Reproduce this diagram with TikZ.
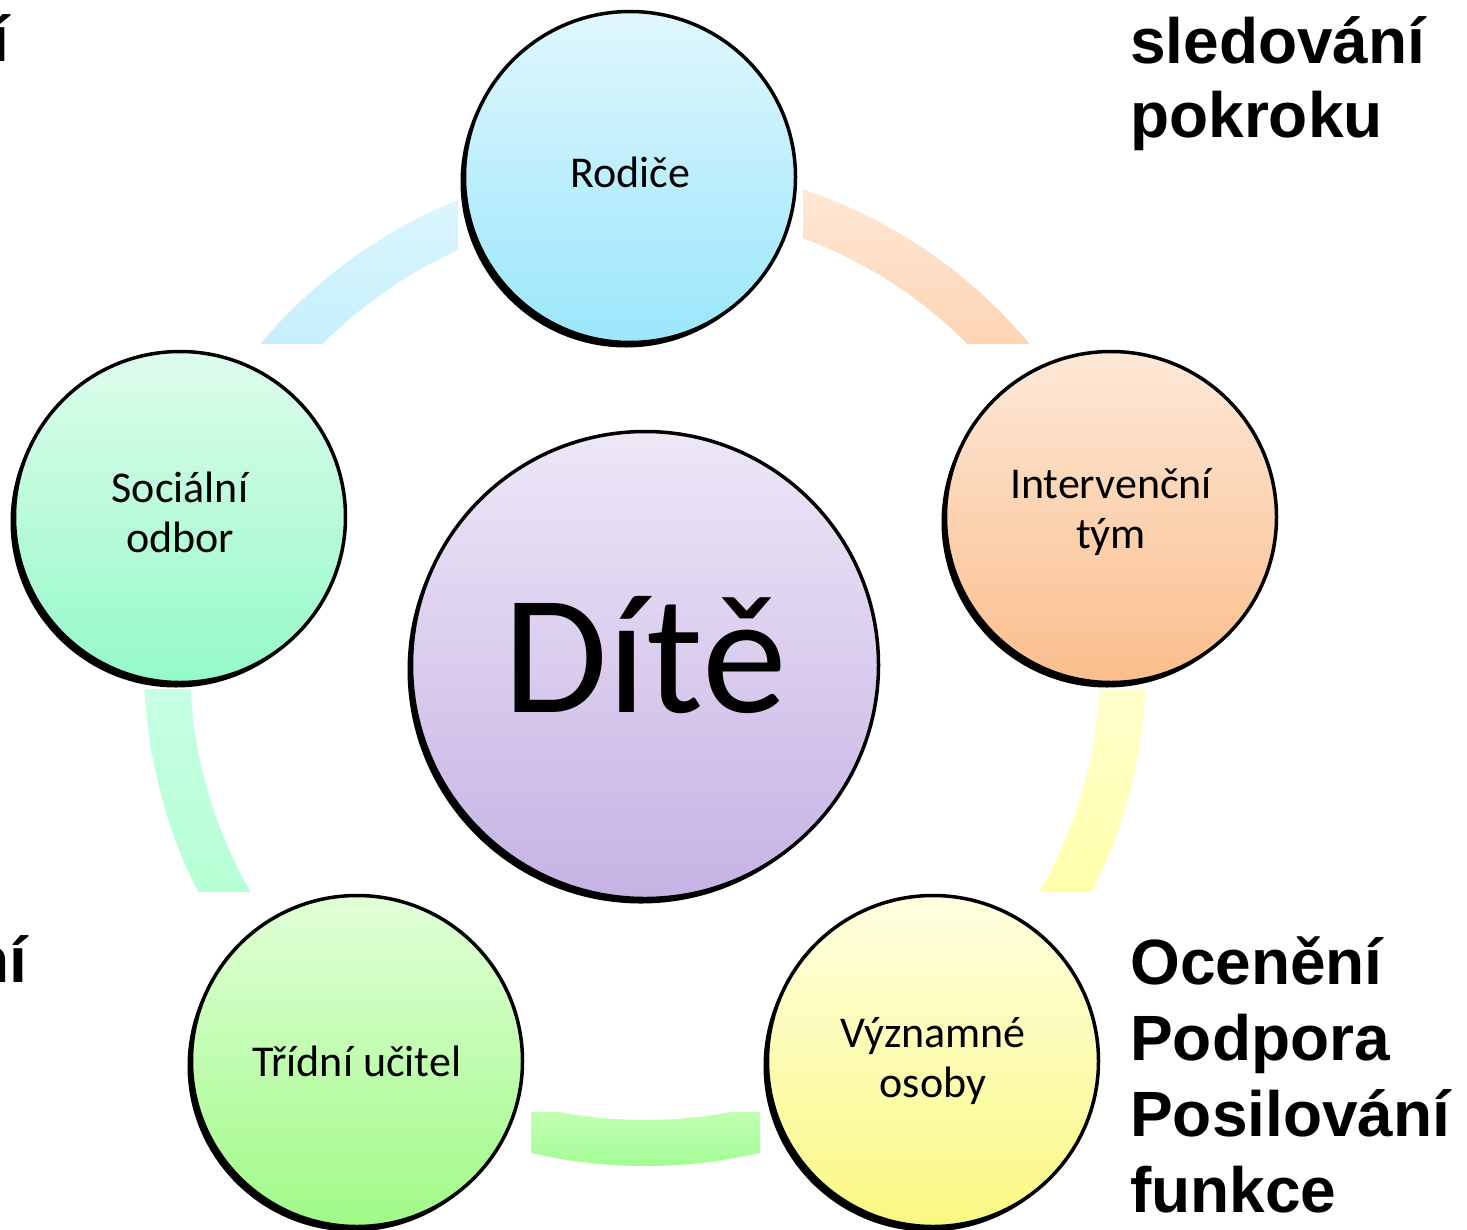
\documentclass[tikz,border=0pt]{standalone}
\usepackage{fontspec}
\setmainfont{Carlito}
\newfontfamily\sidefont{Liberation Sans}
\usetikzlibrary{shadows}
\definecolor{rodTop}{RGB}{224,247,253}
\definecolor{rodBot}{RGB}{154,230,251}
\definecolor{intTop}{RGB}{253,232,215}
\definecolor{intBot}{RGB}{251,190,140}
\definecolor{vyzTop}{RGB}{255,255,225}
\definecolor{vyzBot}{RGB}{250,248,130}
\definecolor{triTop}{RGB}{225,255,215}
\definecolor{triBot}{RGB}{160,250,135}
\definecolor{socTop}{RGB}{222,252,236}
\definecolor{socBot}{RGB}{148,250,200}
\definecolor{ditTop}{RGB}{237,231,247}
\definecolor{ditBot}{RGB}{198,178,228}
\definecolor{arcBlueT}{RGB}{220,246,254}
\definecolor{arcBlueB}{RGB}{198,239,252}
\definecolor{arcPeachT}{RGB}{254,232,216}
\definecolor{arcPeachB}{RGB}{253,213,180}
\definecolor{arcYelT}{RGB}{255,255,205}
\definecolor{arcYelB}{RGB}{255,255,170}
\definecolor{arcMintT}{RGB}{198,255,228}
\definecolor{arcMintB}{RGB}{182,255,212}
\definecolor{arcGreenT}{RGB}{192,255,178}
\definecolor{arcGreenB}{RGB}{163,253,148}
\begin{document}
\begin{tikzpicture}[x=1pt,y=-1pt,
  bubble/.style={circle, draw=black, line width=3.5pt, inner sep=0pt,
    minimum size=331pt, align=center,
    font=\fontsize{44}{50}\selectfont,
    drop shadow={shadow xshift=-4pt,shadow yshift=-5pt,fill=black,opacity=1}},
  sidetext/.style={anchor=base west, inner sep=0pt,
    font=\sidefont\bfseries\fontsize{64}{76}\selectfont}]
\useasboundingbox (0,0) rectangle (1467,1229);
\fill[white] (0,0) rectangle (1467,1229);
\coordinate (ctr) at (645,665);
% connecting arc bands
\begin{scope}
  \clip (0,0) rectangle (458,343);
  \clip (ctr) ++(501,0) arc[start angle=0,end angle=360,radius=501] -- ++(-46,0) arc[start angle=360,end angle=0,radius=455] -- cycle;
  \shade[top color=arcBlueT,bottom color=arcBlueB] (0,195) rectangle (458,343);
\end{scope}
\begin{scope}
  \clip (803,0) rectangle (1467,343);
  \clip (ctr) ++(501,0) arc[start angle=0,end angle=360,radius=501] -- ++(-46,0) arc[start angle=360,end angle=0,radius=455] -- cycle;
  \shade[top color=arcPeachT,bottom color=arcPeachB] (803,185) rectangle (1467,343);
\end{scope}
\begin{scope}
  \clip (645,689) rectangle (1467,891);
  \clip (ctr) ++(501,0) arc[start angle=0,end angle=360,radius=501] -- ++(-46,0) arc[start angle=360,end angle=0,radius=455] -- cycle;
  \shade[top color=arcYelT,bottom color=arcYelB] (645,689) rectangle (1467,891);
\end{scope}
\begin{scope}
  \clip (0,689) rectangle (645,891);
  \clip (ctr) ++(501,0) arc[start angle=0,end angle=360,radius=501] -- ++(-46,0) arc[start angle=360,end angle=0,radius=455] -- cycle;
  \shade[top color=arcMintT,bottom color=arcMintB] (0,689) rectangle (645,891);
\end{scope}
\begin{scope}
  \clip (531,891) rectangle (760,1229);
  \clip (ctr) ++(501,0) arc[start angle=0,end angle=360,radius=501] -- ++(-46,0) arc[start angle=360,end angle=0,radius=455] -- cycle;
  \shade[top color=arcGreenT,bottom color=arcGreenB] (531,1112) rectangle (760,1168);
\end{scope}
% circles
\node[bubble, top color=rodTop, bottom color=rodBot, text depth=9pt] (rod) at (630,177) {Rodiče};
\node[bubble, top color=intTop, bottom color=intBot, text depth=17pt] (int) at (1111,517) {Intervenční\\tým};
\node[bubble, top color=vyzTop, bottom color=vyzBot] (vyz) at (933,1061) {Významné\\osoby};
\node[bubble, top color=triTop, bottom color=triBot] (tri) at (357,1061) {Třídní učitel};
\node[bubble, top color=socTop, bottom color=socBot, text depth=9pt] (soc) at (180,517) {Sociální\\odbor};
\node[bubble, minimum size=467pt, top color=ditTop, bottom color=ditBot,
  font=\fontsize{170}{200}\selectfont, text height=119pt, text depth=25pt] (dite) at (645,665) {Dítě};
% side texts
\node[sidetext] (s1) at (1130,63) {sledování};
\node[sidetext] (s2) at (1130,137) {pokroku};
\node[sidetext] (o1) at (1130,984) {Ocenění};
\node[sidetext] (o2) at (1130,1060) {Podpora};
\node[sidetext] (o3) at (1130,1136) {Posilování};
\node[sidetext] (o4) at (1130,1212) {funkce};
\node[sidetext, anchor=base east] (l1) at (9.5,61) {í};
\node[sidetext, anchor=base east] (l2) at (27.5,982) {ní};
\end{tikzpicture}
\end{document}
